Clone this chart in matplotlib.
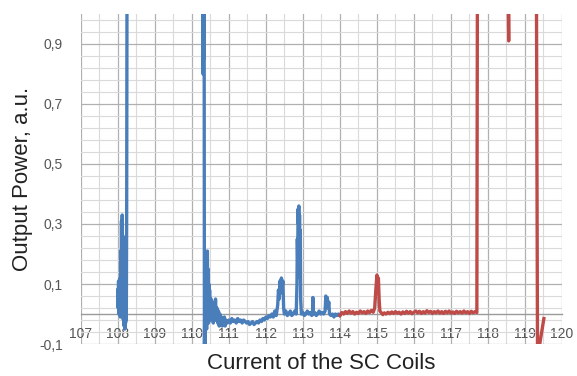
import numpy as np
import matplotlib
matplotlib.use("Agg")
from matplotlib import pyplot as plt
from matplotlib.ticker import FixedLocator, MultipleLocator, FuncFormatter

# blue trace (up to 114), values above 1 run off the top of the chart
blue_x = [108.00, 108.01, 108.02, 108.03, 108.04, 108.05, 108.06, 108.07, 108.08, 108.09,
          108.10, 108.11, 108.12, 108.13, 108.14, 108.15, 108.16, 108.17, 108.18, 108.19,
          108.20, 108.21, 108.22, 108.23, 108.24, 108.25, 108.26, 109.50, 110.28,
          110.30, 110.31, 110.32, 110.33, 110.34, 110.35, 110.36, 110.37, 110.38, 110.39,
          110.40, 110.42, 110.43, 110.44, 110.45, 110.46, 110.47, 110.48, 110.50, 110.52,
          110.54, 110.56, 110.58, 110.60, 110.62, 110.64, 110.66, 110.68, 110.70, 110.72,
          110.74, 110.76, 110.78, 110.80, 110.82, 110.84, 110.86, 110.88, 110.90, 110.92,
          110.96, 111.00, 111.04, 111.08, 111.12, 111.16, 111.20, 111.24, 111.28, 111.32,
          111.36, 111.40, 111.44, 111.48, 111.52, 111.56, 111.60, 111.64, 111.68, 111.72,
          111.76, 111.80, 111.84, 111.88, 111.92, 111.96, 112.00, 112.04, 112.08, 112.12,
          112.16, 112.20, 112.24, 112.28, 112.32, 112.34, 112.36, 112.38, 112.40, 112.42,
          112.44, 112.46, 112.48, 112.50, 112.54, 112.58, 112.62, 112.66, 112.70, 112.74,
          112.78, 112.82, 112.84, 112.85, 112.86, 112.87, 112.88, 112.89, 112.90, 112.91,
          112.92, 112.93, 112.94, 112.96, 113.00, 113.04, 113.08, 113.12, 113.16, 113.20,
          113.24, 113.26, 113.27, 113.28, 113.32, 113.36, 113.40, 113.44, 113.48, 113.52,
          113.56, 113.60, 113.62, 113.64, 113.66, 113.68, 113.70, 113.72, 113.76, 113.80,
          113.84, 113.88, 113.92, 113.96, 114.00]
blue_y = [0.08, 0.02, 0.11, 0.00, 0.09, 0.03, 0.12, -0.01, 0.21, 0.06,
          0.31, 0.04, 0.33, 0.12, 0.26, -0.02, 0.10, -0.04, 0.05, -0.05,
          0.02, -0.03, 0.04, -0.02, 0.35, 1.20, 1.50, 1.50, 1.50,
          0.80, 1.50, 0.85, 1.50, -0.15, 0.05, -0.12, 0.09, 0.00, 0.12,
          -0.05, 0.21, 0.02, 0.15, -0.03, 0.10, 0.01, 0.08, -0.02, 0.05,
          -0.01, 0.04, -0.03, 0.03, -0.02, 0.05, -0.02, 0.02, -0.03, 0.01,
          -0.04, 0.00, -0.03, -0.01, -0.04, -0.02, -0.03, -0.01, -0.04, -0.02,
          -0.03, -0.02, -0.03, -0.015, -0.025, -0.02, -0.03, -0.015, -0.025, -0.02,
          -0.03, -0.02, -0.025, -0.03, -0.025, -0.035, -0.03, -0.025, -0.035, -0.03,
          -0.025, -0.03, -0.02, -0.025, -0.015, -0.02, -0.01, -0.015, -0.005, -0.01,
          0.00, -0.01, 0.01, -0.005, 0.03, 0.08, 0.05, 0.11, 0.07, 0.12,
          0.09, 0.11, 0.02, 0.00, 0.01, -0.005, 0.00, 0.01, -0.005, 0.00,
          0.01, 0.00, 0.10, 0.25, 0.18, 0.35, 0.30, 0.36, 0.22, 0.33,
          0.12, 0.28, 0.05, 0.00, 0.005, -0.005, 0.00, 0.01, 0.00, 0.005,
          -0.005, 0.00, 0.055, 0.00, 0.005, -0.005, 0.00, 0.01, 0.00, 0.005,
          0.00, 0.01, 0.06, 0.03, 0.055, 0.02, 0.04, 0.00, -0.005, 0.00,
          -0.01, 0.00, -0.005, 0.00, -0.005]

# red trace (from 114 on)
red_x = [114.00, 114.05, 114.10, 114.15, 114.20, 114.25, 114.30, 114.35, 114.40, 114.45,
         114.50, 114.55, 114.60, 114.65, 114.70, 114.75, 114.80, 114.85, 114.90, 114.94,
         114.97, 115.00, 115.02, 115.04, 115.06, 115.08, 115.12, 115.16, 115.20, 115.25,
         115.30, 115.35, 115.40, 115.45, 115.50, 115.55, 115.60, 115.65, 115.70, 115.75,
         115.80, 115.85, 115.90, 115.95, 116.00, 116.05, 116.10, 116.15, 116.20, 116.25,
         116.30, 116.35, 116.40, 116.45, 116.50, 116.55, 116.60, 116.65, 116.70, 116.75,
         116.80, 116.85, 116.90, 116.95, 117.00, 117.05, 117.10, 117.15, 117.20, 117.25,
         117.30, 117.35, 117.40, 117.45, 117.50, 117.55, 117.60, 117.65, 117.70, 117.72,
         118.50, 118.56, 118.58, 119.30, 119.34, 119.36, 119.51]
red_y = [-0.005, 0.005, 0.000, 0.008, 0.002, 0.010, 0.003, 0.008, 0.000, 0.006,
         0.002, 0.010, 0.004, 0.008, 0.002, 0.010, 0.005, 0.012, 0.006, 0.02,
         0.08, 0.13, 0.10, 0.12, 0.05, 0.01, 0.004, -0.002, 0.004, 0.000,
         0.006, 0.001, 0.007, 0.002, 0.008, 0.003, 0.006, 0.000, 0.007, 0.002,
         0.009, 0.003, 0.008, 0.001, 0.006, 0.010, 0.004, 0.009, 0.002, 0.008,
         0.003, 0.011, 0.005, 0.009, 0.002, 0.008, 0.004, 0.010, 0.003, 0.008,
         0.002, 0.009, 0.004, 0.010, 0.003, 0.007, 0.002, 0.009, 0.004, 0.008,
         0.003, 0.010, 0.004, 0.008, 0.002, 0.009, 0.004, 0.008, 0.005, 1.50,
         1.50, 0.91, 1.50, 1.50, -0.20, -0.13, -0.015]

y_ticks = [-0.1, 0.1, 0.3, 0.5, 0.7, 0.9]
fam = ['Liberation Sans', 'DejaVu Sans']

fig = plt.figure(figsize=(5.77, 3.76), dpi=100)
ax = fig.add_axes([0.140, 0.085, 0.834, 0.878])

ax.plot(blue_x, blue_y, color="#4a7ebb", lw=2.4, solid_joinstyle="round", zorder=3)
ax.plot(red_x, red_y, color="#be4b48", lw=2.4, solid_joinstyle="round", zorder=3)

ax.set_xlim(107, 120)
ax.set_ylim(-0.1, 1.0)
ax.xaxis.set_major_locator(MultipleLocator(1))
ax.xaxis.set_minor_locator(MultipleLocator(0.5))
ax.yaxis.set_major_locator(FixedLocator(y_ticks))
ax.yaxis.set_minor_locator(FixedLocator(np.arange(-0.1, 0.99, 0.04)))
ax.yaxis.set_major_formatter(FuncFormatter(lambda v, p: ("%.1f" % v).replace(".", ",")))

ax.grid(which="major", color="#b0b0b0", lw=0.9)
ax.grid(which="minor", color="#dadada", lw=0.8)
ax.set_axisbelow(True)

for s in ["top", "right", "left"]:
    ax.spines[s].set_visible(False)
ax.spines["bottom"].set_position(("data", 0))
ax.spines["bottom"].set_color("#9a9a9a")
ax.spines["bottom"].set_linewidth(1.0)

ax.tick_params(which="both", length=0)
ax.tick_params(axis="x", labelsize=10, labelcolor="#555555", pad=9)
ax.tick_params(axis="y", labelsize=10, labelcolor="#555555", pad=13)
for lab in ax.get_xticklabels() + ax.get_yticklabels():
    lab.set_fontfamily(fam)

ax.set_xlabel("Current of the SC Coils", fontsize=16, color="#222222",
              family=fam, labelpad=0)
ax.xaxis.set_label_coords(0.5, -0.027)
ax.set_ylabel("Output Power, a.u.", fontsize=16, color="#222222", family=fam)
ax.yaxis.set_label_coords(-0.10, 0.5)

fig.savefig("out.png", dpi=100)
